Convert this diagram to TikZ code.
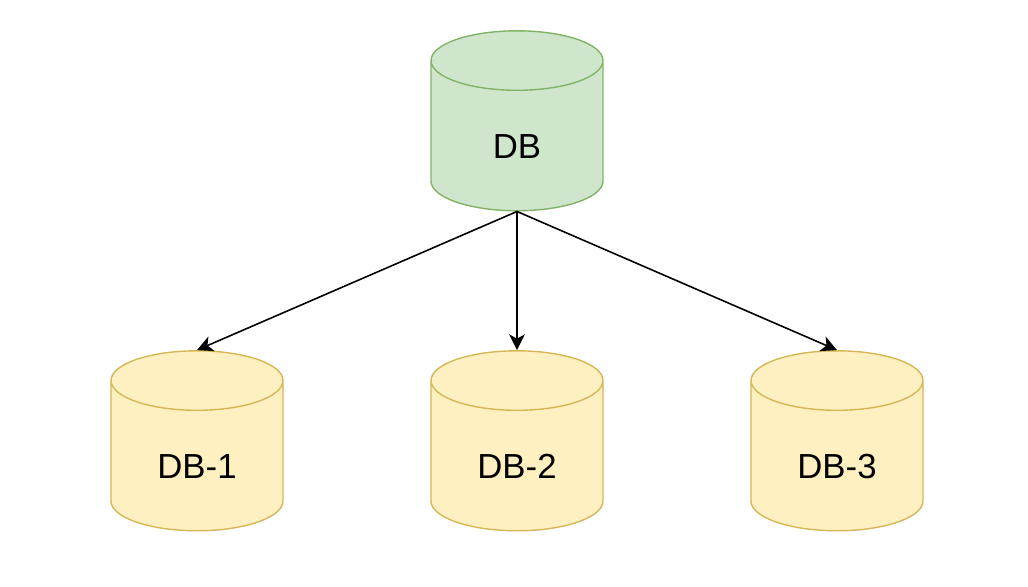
\documentclass[tikz,border=0pt]{standalone}
\usepackage{fontspec}
\setmainfont{Liberation Sans}
\usetikzlibrary{shapes.geometric, arrows.meta, positioning}

\begin{document}
\begin{tikzpicture}[x=0.02cm,y=-0.02cm]
\tikzstyle{database}=[cylinder,shape border rotate=90,aspect=0.7,draw,line width=0.8pt,
  minimum width=3.44cm,minimum height=3.6cm,inner sep=0pt,text width=1.7cm,align=center,
  text height=1.02cm,text depth=0.12cm,font=\fontsize{19.8pt}{24pt}\selectfont]
\tikzstyle{source}=[database,draw=srcline,fill=srcfill]
\tikzstyle{replica}=[database,draw=repline,fill=repfill]
\tikzstyle{link}=[-{Stealth[length=9pt,width=9pt,inset=2.5pt]},line width=0.9pt]
\definecolor{srcfill}{HTML}{CFE6CC}
\definecolor{srcline}{HTML}{82B366}
\definecolor{repfill}{HTML}{FFF0C2}
\definecolor{repline}{HTML}{D6B656}

\useasboundingbox (0,0) rectangle (1028,586);

\node[source] (db) at (517,136) {DB};
\node[replica] (db1) at (197,456) {DB-1};
\node[replica] (db2) at (517,456) {DB-2};
\node[replica] (db3) at (837,456) {DB-3};

\draw[link] (db.bottom) -- (db1.top);
\draw[link] (db.bottom) -- (db2.top);
\draw[link] (db.bottom) -- (db3.top);

\end{tikzpicture}
\end{document}
